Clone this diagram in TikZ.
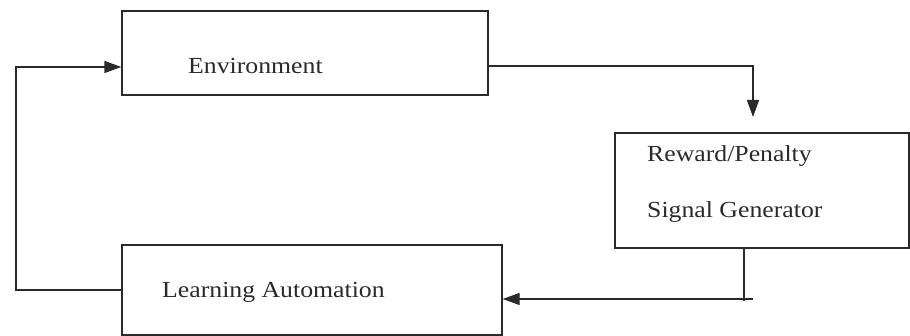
\documentclass[tikz,border=0pt]{standalone}
\usepackage{fontspec}
\setmainfont[FakeStretch=1.12]{Liberation Serif}
\usetikzlibrary{arrows.meta}
\definecolor{ink}{HTML}{2A2A2A}
\tikzset{
  box/.style={draw=ink, line width=1.3pt, inner sep=0pt},
  lbl/.style={anchor=base west, inner sep=0pt, text=ink, font=\fontsize{23}{28}\selectfont},
  wire/.style={draw=ink, line width=1.3pt},
  arr/.style={wire, -{Triangle[length=17pt,width=12pt]}}
}
\begin{document}
\begin{tikzpicture}[x=1pt,y=-1pt]
\useasboundingbox (0,0) rectangle (910,336);
% boxes
\node[box, minimum width=366pt, minimum height=84pt] (env) at (305,53) {};
\node[box, minimum width=294pt, minimum height=115pt] (rw) at (762,190.5) {};
\node[box, minimum width=380pt, minimum height=90pt] (la) at (312,290) {};
% texts
\node[lbl] (envt) at (188,74) {Environment};
\node[lbl] (rwt1) at (647,162) {Reward/Penalty};
\node[lbl] (rwt2) at (647,218) {Signal Generator};
\node[lbl] (lat) at (162,298) {Learning Automation};
% helper coordinates
\coordinate (c1) at (16,290);
\coordinate (c2) at (16,67);
\coordinate (e1) at (487,66);
\coordinate (e2) at (753,66);
\coordinate (e3) at (753,117);
\coordinate (r1) at (744,248);
\coordinate (r2) at (744,301);
\coordinate (r3) at (753,299);
% connectors
\draw[arr] (la.west) -- (c1) -- (c2) -- (c2 -| env.west);
\draw[arr] (e1) -- (e2) -- (e3);
\draw[wire] (r1) -- (r2);
\draw[arr] (r3) -- (r3 -| la.east);
\end{tikzpicture}
\end{document}
